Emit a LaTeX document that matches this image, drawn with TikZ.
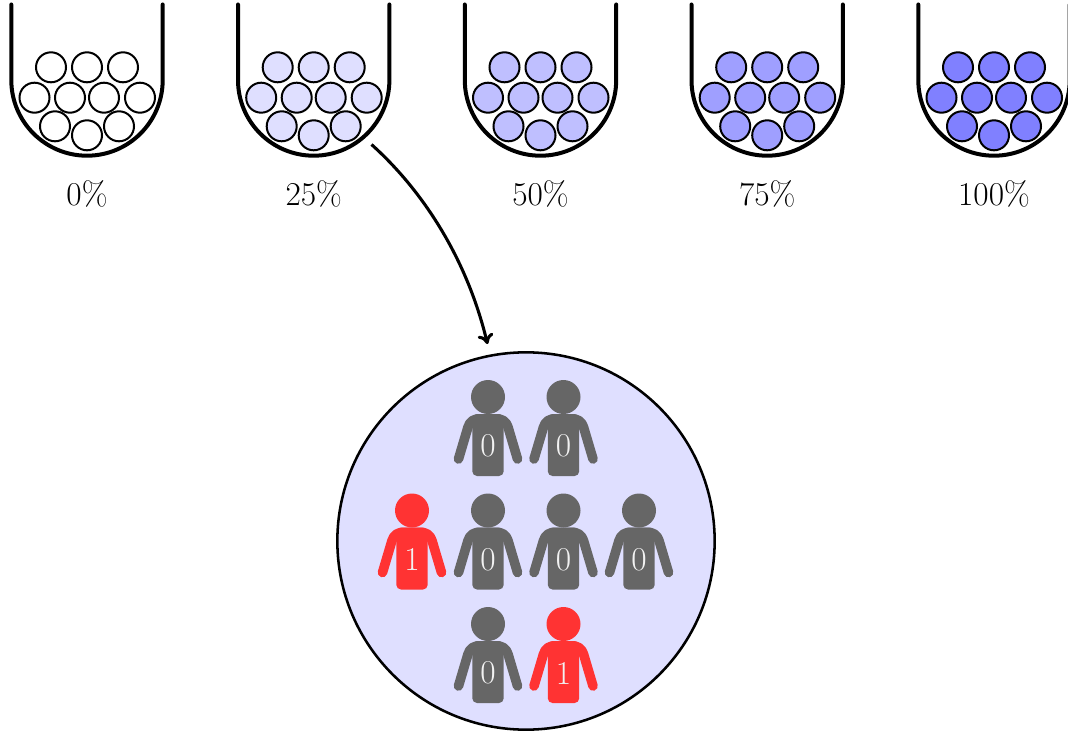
\documentclass[tikz,border=0pt]{standalone}
\usetikzlibrary{arrows.meta}
\definecolor{tintA}{HTML}{FFFFFF}
\definecolor{tintB}{HTML}{DFDFFF}
\definecolor{tintC}{HTML}{BFBFFF}
\definecolor{tintD}{HTML}{9F9FFF}
\definecolor{tintE}{HTML}{8080FF}
\definecolor{poolfill}{HTML}{DFDFFF}
\definecolor{redp}{HTML}{FF3333}
\definecolor{grayp}{HTML}{666666}
\definecolor{digitc}{HTML}{F2F2F2}
\tikzset{
  x=0.75pt,y=-0.75pt,
  bigtext/.style={font=\fontsize{25}{27}\selectfont,inner sep=0pt},
  glass/.style={line width=3pt,line cap=round,line join=round},
  ball/.style={line width=1.5pt,draw=black},
  pics/urn/.style 2 args={code={
    \foreach \bx/\by in {-36/67.3,0/67.3,36/67.3,-52.5/97.7,-17/97.7,17/97.7,53/97.7,-32/126.3,0/135.3,32/126.3}
      \draw[ball,fill=#1] (\bx,\by) circle[radius=15];
    \draw[glass] (-75.7,4.5) -- (-75.7,80) arc[start angle=180,end angle=0,radius=75.7] -- (75.7,4.5);
    \node[bigtext] (label) at (0,193.5) {#2};
  }},
  pics/person/.style 2 args={code={
    \fill[#1] (0,0) circle[radius=17];
    \fill[#1,rounded corners=3.5pt] (-15.7,17) rectangle (15.7,79);
    \draw[#1,line width=7.2pt,line cap=round,line join=round]
      (-29.5,62) -- (-20,30) .. controls (-18,24) and (-14,21.8) .. (-8,21.8)
      -- (8,21.8) .. controls (14,21.8) and (18,24) .. (20,30) -- (29.5,62);
    \node[bigtext,text=digitc] (digit) at (0,49) {#2};
  }},
}
\begin{document}
\begin{tikzpicture}
\useasboundingbox (0,0) rectangle (1068,731);
\pic (u0) at (87,0) {urn={tintA}{0\%}};
\pic (u25) at (313.7,0) {urn={tintB}{25\%}};
\pic (u50) at (540.5,0) {urn={tintC}{50\%}};
\pic (u75) at (767.2,0) {urn={tintD}{75\%}};
\pic (u100) at (994,0) {urn={tintE}{100\%}};
\node[circle,draw=black,fill=poolfill,line width=1.9pt,minimum size=283pt,inner sep=0pt] (pool) at (526,541) {};
\pic (p1) at (488,397) {person={grayp}{0}};
\pic (p2) at (563.5,397) {person={grayp}{0}};
\pic (p3) at (412,510.5) {person={redp}{1}};
\pic (p4) at (488,510.5) {person={grayp}{0}};
\pic (p5) at (563.5,510.5) {person={grayp}{0}};
\pic (p6) at (639,510.5) {person={grayp}{0}};
\pic (p7) at (488,624) {person={grayp}{0}};
\pic (p8) at (563.5,624) {person={redp}{1}};
\coordinate (from) at (371.5,144.5);
\coordinate (to) at (487.5,344);
\draw[line width=2.3pt,-{Computer Modern Rightarrow[length=7.5pt,width=12pt]}] (from) .. controls (420,188) and (466,255) .. (to);
\end{tikzpicture}
\end{document}
